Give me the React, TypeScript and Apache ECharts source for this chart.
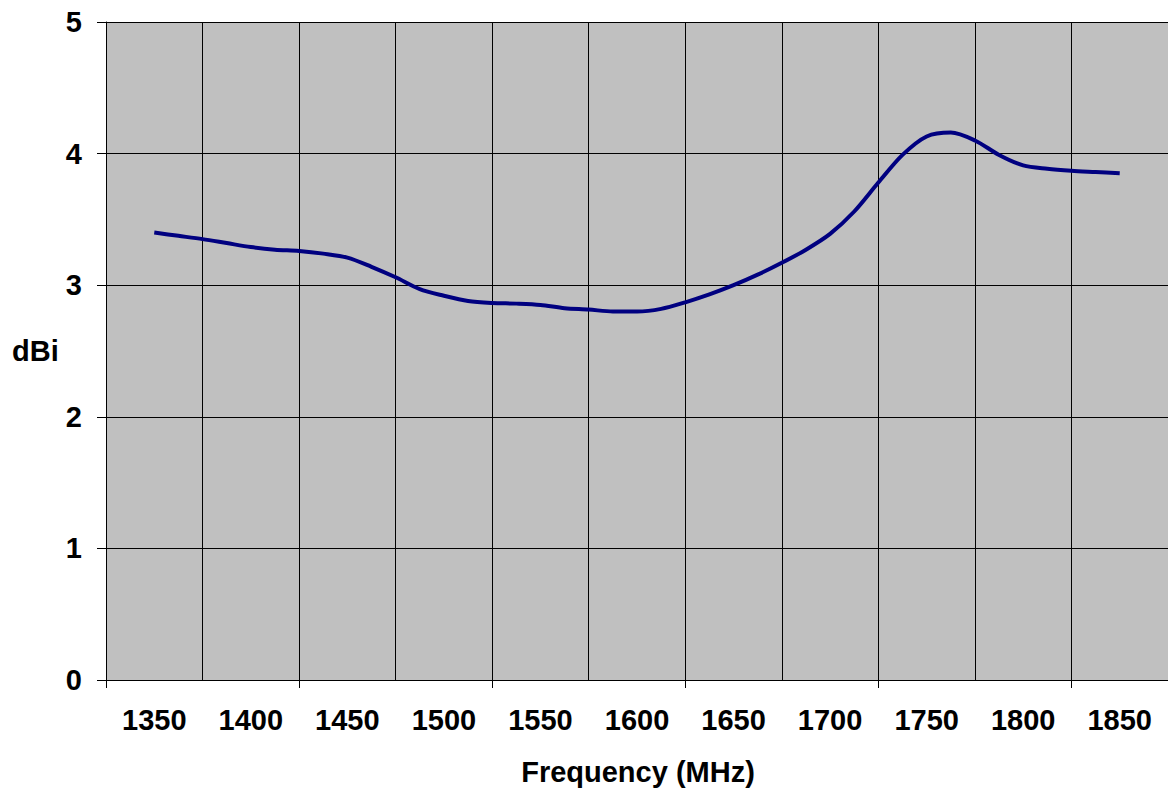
import React, { useEffect, useRef } from "react";
import * as echarts from "echarts";

const categories = ["1350", "1400", "1450", "1500", "1550", "1600", "1650", "1700", "1750", "1800", "1850"];

const freqMHz = [
  1350, 1362.5, 1375, 1387.5, 1400, 1412.5, 1425, 1437.5, 1450, 1462.5, 1475, 1487.5, 1500, 1512.5,
  1525, 1537.5, 1550, 1562.5, 1575, 1587.5, 1600, 1612.5, 1625, 1637.5, 1650, 1662.5, 1675, 1687.5,
  1700, 1712.5, 1725, 1737.5, 1750, 1762.5, 1775, 1787.5, 1800, 1812.5, 1825, 1837.5, 1850,
];

const gainDbi = [
  3.40, 3.375, 3.35, 3.32, 3.29, 3.27, 3.26, 3.24, 3.21, 3.14, 3.06, 2.97, 2.92, 2.88,
  2.865, 2.86, 2.85, 2.825, 2.815, 2.80, 2.80, 2.82, 2.87, 2.93, 3.00, 3.08, 3.17, 3.27,
  3.39, 3.56, 3.78, 3.99, 4.13, 4.16, 4.10, 3.99, 3.91, 3.885, 3.87, 3.86, 3.85,
];

const yTicks = { min: 0, max: 5, interval: 1 };
const xRange = { min: 1325, max: 1875 };

const FONT = "'Liberation Sans', Arial, sans-serif";

export default function App() {
  const ref = useRef<HTMLDivElement>(null);

  useEffect(() => {
    if (!ref.current) return;
    const chart = echarts.init(ref.current, null, { renderer: "svg" });
    const points = freqMHz.map((f, i) => [f, gainDbi[i]]);
    chart.setOption({
      animation: false,
      backgroundColor: "#ffffff",
      grid: {
        left: 106,
        right: 0,
        top: 22,
        bottom: 108,
        show: true,
        backgroundColor: "#C0C0C0",
        borderWidth: 0,
      },
      xAxis: [
        {
          type: "category",
          data: categories,
          boundaryGap: true,
          position: "bottom",
          axisLine: { show: true, lineStyle: { color: "#000", width: 1 } },
          axisTick: { show: true, interval: 1, length: 8, lineStyle: { color: "#000", width: 1 } },
          splitLine: { show: true, interval: 0, lineStyle: { color: "#000", width: 1 } },
          axisLabel: {
            interval: 0,
            fontSize: 29,
            fontWeight: "bold",
            color: "#000",
            fontFamily: FONT,
            margin: 25,
          },
        },
        {
          type: "value",
          min: xRange.min,
          max: xRange.max,
          show: false,
          splitLine: { show: false },
        },
      ],
      yAxis: {
        type: "value",
        min: yTicks.min,
        max: yTicks.max,
        interval: yTicks.interval,
        axisLine: { show: true, lineStyle: { color: "#000", width: 1 } },
        axisTick: { show: true, length: 9, lineStyle: { color: "#000", width: 1 } },
        splitLine: { show: true, lineStyle: { color: "#000", width: 1 } },
        axisLabel: {
          fontSize: 29,
          fontWeight: "bold",
          color: "#000",
          fontFamily: FONT,
          margin: 24,
        },
      },
      graphic: [
        {
          type: "text",
          x: 12,
          y: 351,
          style: {
            text: "dBi",
            fontSize: 29,
            fontWeight: "bold",
            fill: "#000",
            fontFamily: FONT,
            align: "left",
            verticalAlign: "middle",
          },
        },
        {
          type: "text",
          x: 638,
          y: 772,
          style: {
            text: "Frequency (MHz)",
            fontSize: 29,
            fontWeight: "bold",
            fill: "#000",
            fontFamily: FONT,
            align: "center",
            verticalAlign: "middle",
          },
        },
      ],
      series: [
        {
          type: "line",
          xAxisIndex: 1,
          data: points,
          smooth: 0.3,
          symbol: "none",
          lineStyle: { color: "#000080", width: 4 },
        },
      ],
    });
    return () => chart.dispose();
  }, []);

  return (
    <div
      ref={ref}
      style={{ position: "fixed", left: 0, top: 0, width: 1168, height: 788 }}
    />
  );
}
